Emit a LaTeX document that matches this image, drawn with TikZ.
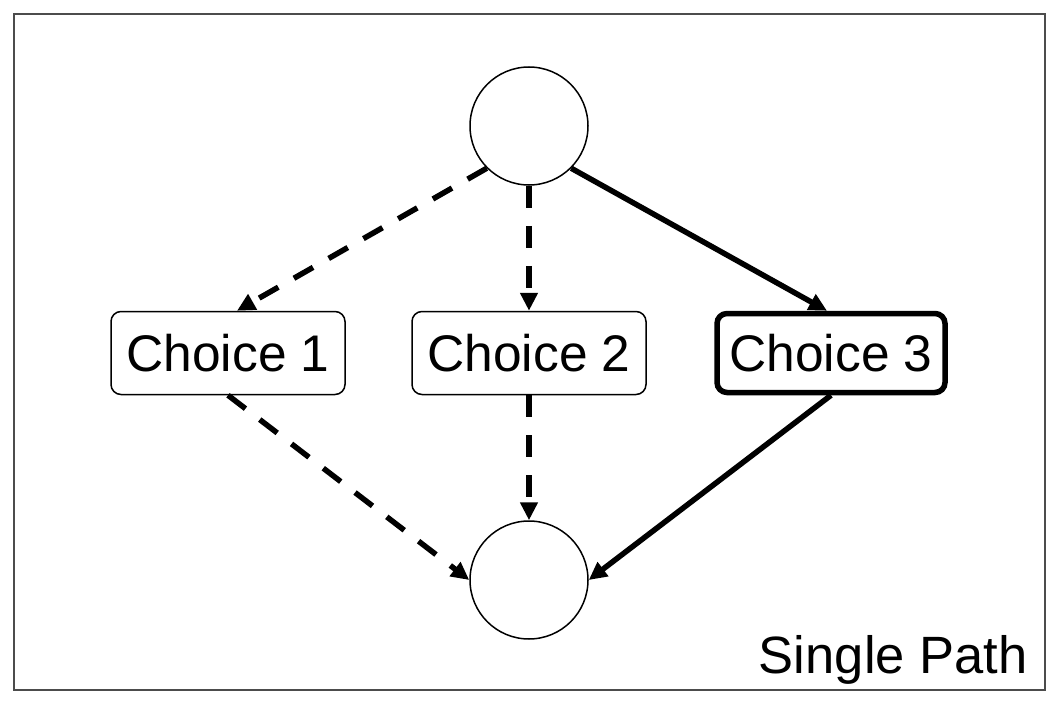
\documentclass[tikz,border=0pt]{standalone}
\usepackage{fontspec}
\setmainfont{Liberation Sans}
\usetikzlibrary{arrows.meta}
\tikzset{junction/.style={
    circle, draw, line width=1.5pt,
    minimum size=118pt, inner sep=0pt
  },
  choice/.style={
    draw, rounded corners=10pt, line width=1.5pt,
    minimum width=234pt, minimum height=83pt, inner sep=0pt,
    font=\fontsize{51.5}{60}\selectfont
  },
  picked/.style={
    choice, line width=5.5pt,
    minimum width=228pt, minimum height=79pt
  },
  flow/.style={line width=5.5pt, -{Triangle[length=18pt,width=17pt]}},
  skipped/.style={flow, dash pattern=on 22pt off 18pt}
}

\begin{document}
\begin{tikzpicture}[x=1pt, y=-1pt]
    \useasboundingbox (0,0) rectangle (1058,706);
    \draw[black!70, line width=1.5pt] (14,14) rectangle (1045,690);
    \node[junction] (top) at (529,126) {};
    \node[junction] (bottom) at (529,580) {};
    \node[choice] (c1) at (228,353) {Choice 1};
    \node[choice] (c2) at (529,353) {Choice 2};
    \node[picked] (c3) at (831,353) {Choice 3};
    \node[anchor=base east, font=\fontsize{52.5}{60}\selectfont] (label) at (1031,673) {Single Path};
    % top to choices
    \draw[skipped] (top.-135) -- ([xshift=9pt]c1.north);
    \draw[skipped] (top.south) -- (c2.north);
    \draw[flow] (top.-45) -- ([xshift=-4pt]c3.north);
    % choices to bottom
    \draw[skipped] (c1.south) -- (bottom.west);
    \draw[skipped] (c2.south) -- (bottom.north);
    \draw[flow] (c3.south) -- (bottom.east);
\end{tikzpicture}
\end{document}
